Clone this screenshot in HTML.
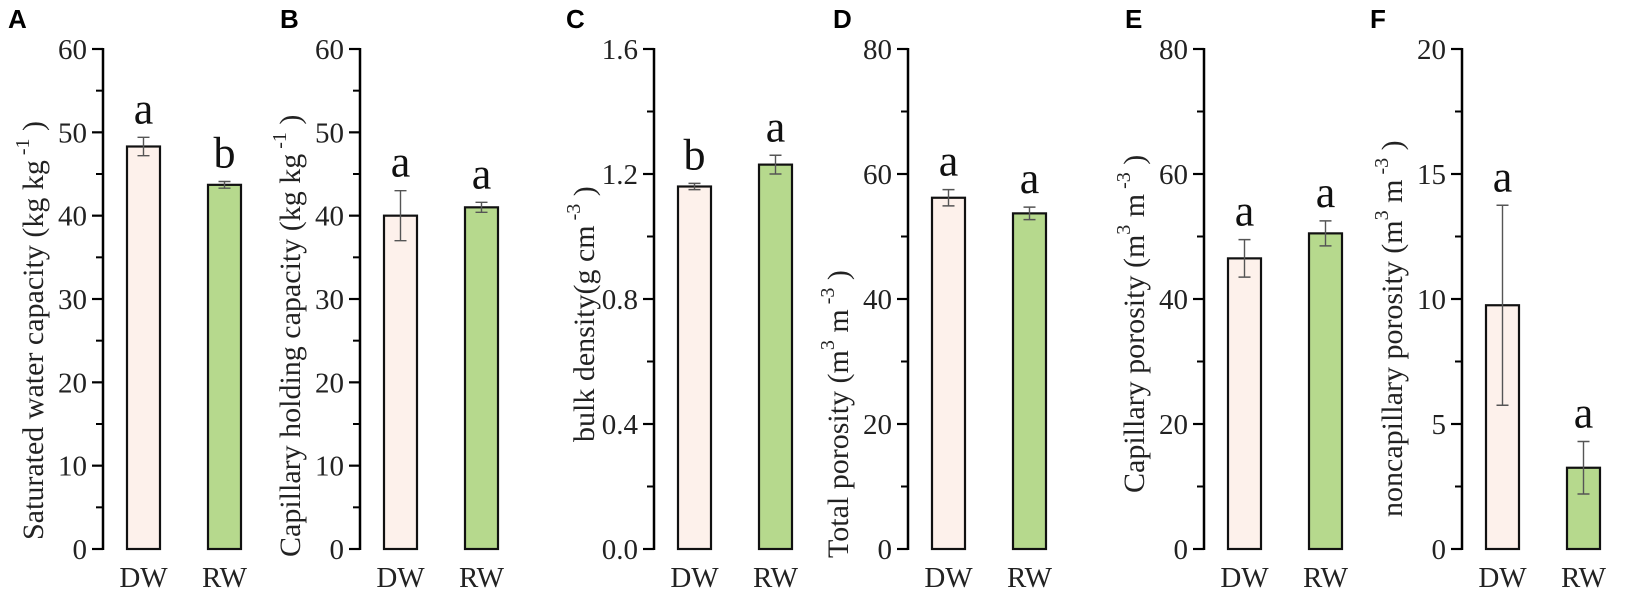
<!DOCTYPE html>
<html><head><meta charset="utf-8"><style>
html,body{margin:0;padding:0;background:#fff;}
svg{display:block;}
</style></head><body>
<svg id="chart" width="1650" height="592" viewBox="0 0 1650 592" xmlns="http://www.w3.org/2000/svg"></svg>
<script>
const categories = ["DW", "RW"];
const panelLetters = ["A", "B", "C", "D", "E", "F"];
const yMaxes = [60, 60, 1.6, 80, 80, 20];
const majorSteps = [10, 10, 0.4, 20, 20, 5];
const tickDecimals = [0, 0, 1, 0, 0, 0];
const dwValues = [48.3, 40.0, 1.16, 56.2, 46.5, 9.75];
const rwValues = [43.7, 41.0, 1.23, 53.7, 50.5, 3.25];
const dwErrors = [1.1, 3.0, 0.01, 1.3, 3.0, 4.0];
const rwErrors = [0.4, 0.6, 0.03, 1.0, 2.0, 1.05];
const dwLetters = ["a", "a", "b", "a", "a", "a"];
const rwLetters = ["b", "a", "a", "a", "a", "a"];
const titleMain = ["Saturated water capacity (kg kg", "Capillary holding capacity (kg kg", "bulk density(g cm", "Total porosity (m", "Capillary porosity (m", "noncapillary porosity (m"];
const titleSup1 = ["", "", "", "3", "3", "3"];
const titleMid = ["", "", "", " m", " m", " m"];
const titleSup2 = ["-1", "-1", "-3", "-3", "-3", "-3"];

// layout (not data)
const axisX = [103, 360, 654, 908, 1204, 1462];
const letterX = [8, 280, 566, 833, 1125, 1370];
const titleStart = [540, 557, 442, 558, 493, 517];
const yTop = 49, yBot = 549;
const svg = document.getElementById('chart');
const NS = 'http://www.w3.org/2000/svg';
function mk(tag, attrs, parent) {
  const e = document.createElementNS(NS, tag);
  for (const k in attrs) e.setAttribute(k, attrs[k]);
  (parent || svg).appendChild(e);
  return e;
}
const serif = '"Liberation Serif", serif';

for (let p = 0; p < 6; p++) {
  const ax = axisX[p];
  const yMax = yMaxes[p];
  const ys = v => yBot - (v / yMax) * (yBot - yTop);
  const g = mk('g', {});
  
  

  const pl = mk('text', {x: letterX[p], y: 28, 'font-family': '"Liberation Sans", sans-serif', 'font-weight': 'bold', 'font-size': 26, fill: '#000'}, g);
  pl.textContent = panelLetters[p];
  
  

  // axis
  const axl = mk('line', {x1: ax, y1: yTop - 1, x2: ax, y2: yBot + 1, stroke: '#000', 'stroke-width': 2.5}, g);
  
  
  const step = majorSteps[p];
  const n = Math.round(yMax / step);
  for (let i = 0; i <= n; i++) {
    const v = i * step;
    const y = ys(v);
    const t = mk('line', {x1: ax - 11, y1: y, x2: ax, y2: y, stroke: '#000', 'stroke-width': 2.2}, g);
    
    
    const lb = mk('text', {x: ax - 16, y: y + 10, 'text-anchor': 'end', 'font-family': serif, 'font-size': 29, fill: '#222'}, g);
    lb.textContent = v.toFixed(tickDecimals[p]);
    
    
    if (i < n) {
      const ym = ys(v + step / 2);
      const mt = mk('line', {x1: ax - 7, y1: ym, x2: ax, y2: ym, stroke: '#000', 'stroke-width': 2}, g);
      
      
    }
  }

  // title
  const tx = ax - 60, ty = titleStart[p];
  const tt = mk('text', {x: tx, y: ty, transform: `rotate(-90 ${tx} ${ty})`, 'font-family': serif, 'font-size': 30, fill: '#222'}, g);
  
  
  const s0 = mk('tspan', {}, tt); s0.textContent = titleMain[p];
  if (titleSup1[p]) {
    const s1 = mk('tspan', {dy: -14, 'font-size': 20}, tt); s1.textContent = titleSup1[p];
    const s2 = mk('tspan', {dy: 14}, tt); s2.textContent = titleMid[p];
  }
  const s3 = mk('tspan', {dy: -14, 'font-size': 20}, tt); s3.textContent = ' ' + titleSup2[p];
  const s4 = mk('tspan', {dy: 14}, tt); s4.textContent = ' )';

  // bars
  const vals = [dwValues[p], rwValues[p]];
  const errs = [dwErrors[p], rwErrors[p]];
  const lets = [dwLetters[p], rwLetters[p]];
  const fills = ['#fdf1eb', '#b6d98d'];
  const offs = [24, 105];
  for (let c = 0; c < 2; c++) {
    const x0 = ax + offs[c], w = 33, cx = x0 + w / 2;
    const yv = ys(vals[c]);
    const r = mk('rect', {x: x0, y: yv, width: w, height: yBot - yv, fill: fills[c], stroke: '#111', 'stroke-width': 2.2}, g);
    
    
    const yt = ys(vals[c] + errs[c]), yb = ys(vals[c] - errs[c]);
    const eb = mk('path', {d: `M${cx},${yt}V${yb}M${cx - 6},${yt}H${cx + 6}M${cx - 6},${yb}H${cx + 6}`, stroke: '#555', 'stroke-width': 1.4, fill: 'none'}, g);
    
    
    const sl = mk('text', {x: cx, y: yt - 14, 'text-anchor': 'middle', 'font-family': serif, 'font-size': 44, fill: '#111'}, g);
    sl.textContent = lets[c];
    
    
    const xl = mk('text', {x: cx, y: 587, 'text-anchor': 'middle', 'font-family': serif, 'font-size': 29, fill: '#222'}, g);
    xl.textContent = categories[c];
    
    
  }
}
</script>
</body></html>
